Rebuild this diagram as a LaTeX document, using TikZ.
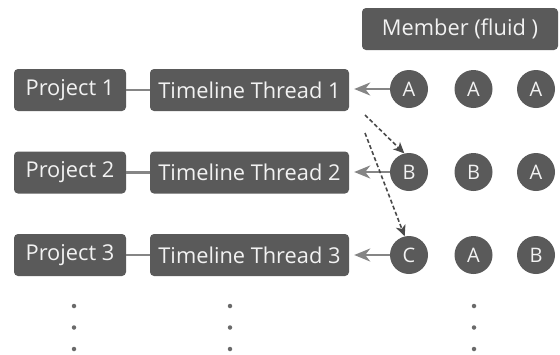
\documentclass[tikz,border=0pt]{standalone}
\usepackage{fontspec}
\setmainfont{Open Sans}
\usetikzlibrary{arrows.meta}
\definecolor{boxfill}{HTML}{5A5A5A}
\definecolor{linkgray}{HTML}{858585}
\definecolor{dashgray}{HTML}{4A4A4A}
\definecolor{txt}{HTML}{F2F2F2}
\definecolor{dotgray}{HTML}{6A6A6A}
\tikzset{
  box/.style={fill=boxfill, rounded corners=4pt, minimum height=42pt, inner sep=0pt,
    text=txt, font=\fontsize{21.8}{23}\selectfont},
  proj/.style={box, minimum width=112pt},
  thread/.style={box, minimum width=199pt},
  member/.style={circle, fill=boxfill, minimum size=38pt, inner sep=0pt,
    text=txt, font=\fontsize{20}{22}\selectfont},
  link/.style={draw=linkgray, line width=2.3pt},
  feed/.style={draw=linkgray, line width=2.4pt, shorten >=5pt,
    -{Stealth[length=16pt,width=13pt,inset=5pt]}},
  move/.style={draw=dashgray, line width=1.6pt, dash pattern=on 4pt off 2.5pt,
    -{Stealth[length=11pt,width=10pt,inset=3pt]}},
  vdot/.style={circle, fill=dotgray, minimum size=4.5pt, inner sep=0pt}
}
\begin{document}
\begin{tikzpicture}[x=1pt,y=-1pt]
\useasboundingbox (0,0) rectangle (560,354);
% header
\node[box, minimum width=196pt] (hdr) at (460,29) {Member (fluid )};
% rows
\node[proj] (p1) at (70,90) {Project 1};
\node[proj] (p2) at (70,172.5) {Project 2};
\node[proj] (p3) at (70,255) {Project 3};
\node[thread] (t1) at (249.5,90) {Timeline Thread 1};
\node[thread] (t2) at (249.5,172.5) {Timeline Thread 2};
\node[thread] (t3) at (249.5,255) {Timeline Thread 3};
\node[member] (a1) at (409,89) {A};
\node[member] (a2) at (473.5,89) {A};
\node[member] (a3) at (536,89) {A};
\node[member] (b1) at (409,172) {B};
\node[member] (b2) at (473.5,172) {B};
\node[member] (b3) at (536,172) {A};
\node[member] (c1) at (409,255) {C};
\node[member] (c2) at (473.5,255) {A};
\node[member] (c3) at (536,255) {B};
% links
\draw[link] (p1) -- (t1);
\draw[link] (p2) -- (t2);
\draw[link] (p3) -- (t3);
\draw[feed] (a1) -- (a1 -| t1.east);
\draw[feed] (b1) -- (b1 -| t2.east);
\draw[feed] (c1) -- (c1 -| t3.east);
% moves
\coordinate (m1) at (365,115);
\coordinate (m2) at (365,133);
\draw[move] (m1) -- (b1.104);
\draw[move] (m2) -- (c1.103);
% ellipsis dots
\foreach \x/\n in {74/p,230/t,474/m}{
  \node[vdot] (\n d1) at (\x,306) {};
  \node[vdot] (\n d2) at (\x,327.5) {};
  \node[vdot] (\n d3) at (\x,349) {};
}
\end{tikzpicture}
\end{document}
